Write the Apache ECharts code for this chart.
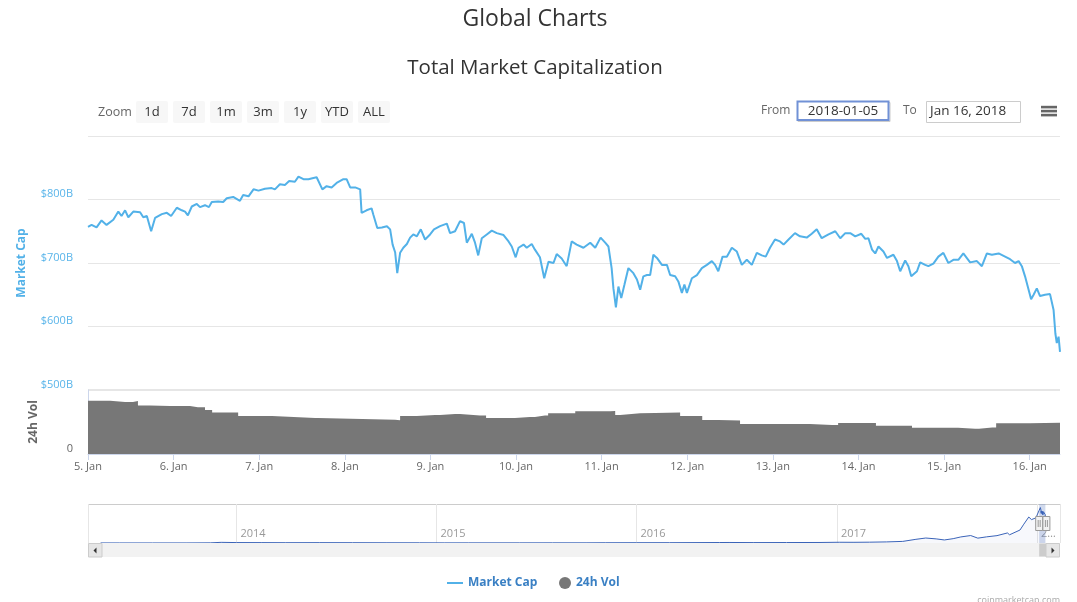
<!DOCTYPE html>
<html><head><meta charset="utf-8">
<script src="https://cdn.jsdelivr.net/npm/echarts@6/dist/echarts.min.js"></script>
<style>html,body{margin:0;padding:0;background:#fff}#c{width:1077px;height:602px}</style>
</head><body><div id="c"></div>
<script>
// ---- Market cap (billions USD), hours since 2018-01-05 00:00 ----
const capHours = [0,1.0,2.4,3.8,5.2,7.1,8.5,9.4,10.4,11.3,12.7,14.6,15.5,16.5,17.7,18.8,20.7,22.1,23.3,24.9,26.3,27.2,28.0,29.1,30.5,31.4,32.8,33.9,34.7,36.5,37.9,38.9,40.7,42.6,43.5,45.0,46.4,47.8,49.6,51.5,52.4,53.8,55.2,56.4,58.0,59.0,60.4,61.8,63.2,64.1,65.7,66.9,68.3,69.7,71.6,72.5,73.5,74.9,76.3,76.7,78.1,79.5,80.0,81.1,82.4,83.8,84.7,85.4,86.1,86.7,87.5,88.4,89.4,90.3,91.2,92.2,93.3,94.5,95.9,97.0,98.7,100.6,101.5,102.9,104.3,105.4,106.2,107.6,108.5,109.4,110.4,111.8,113.2,114.6,116.5,117.9,118.8,119.9,120.7,122.1,123.0,124.4,125.3,126.7,127.9,129.1,130.5,131.4,132.8,134.2,135.6,137.0,138.9,140.8,142.2,143.7,145.0,145.9,146.8,147.3,148.0,148.7,149.5,150.4,151.5,152.9,153.9,154.8,155.7,156.7,157.6,158.5,159.5,160.9,162.3,163.2,164.6,165.5,166.5,167.2,167.9,169.3,170.7,172.1,173.5,174.9,175.8,176.7,177.9,179.1,180.5,181.9,183.3,184.7,186.1,187.5,188.9,190.0,191.2,192.6,194.0,195.0,196.4,198.2,199.6,201.5,202.9,204.3,205.7,207.6,209.5,210.9,212.3,213.7,215.1,216.8,217.9,218.8,219.8,220.7,221.6,223.0,224.0,225.8,226.8,227.7,229.1,230.0,230.8,232.4,233.3,234.7,235.6,237.0,238.4,239.8,241.2,242.6,244.0,245.4,247.3,249.2,250.6,252.0,253.4,255.3,257.1,258.5,259.9,260.9,261.8,262.7,263.7,264.4,265.1,266.0,266.9,268.3,269.7,270.2,270.7,271.2,271.6,272.1,272.5];
const marketCap = [757,760,756,767,760,768,781,774,783,772,781,780,772,774,750,771,777,779,774,787,783,781,775,789,793,788,791,788,796,797,796,802,804,798,807,805,816,814,817,818,816,824,823,829,828,836,832,832,834,835,816,821,819,826,832,832,819,819,816,779,783,786,776,755,756,758,753,729,717,684,716,724,730,740,745,742,753,737,745,753,758,762,747,750,766,763,732,746,732,712,739,745,751,747,744,734,726,709,724,729,724,730,721,709,676,702,700,714,707,695,734,729,724,732,724,740,732,726,692,660,630,663,645,666,692,684,674,658,679,681,681,713,708,697,697,681,679,671,653,666,653,676,681,692,697,703,697,687,710,710,724,718,697,705,697,716,712,710,724,737,734,729,737,747,742,740,746,753,739,745,750,739,747,747,742,746,738,739,721,715,726,718,708,713,703,687,704,695,679,687,701,697,695,699,710,716,700,705,705,715,701,703,695,715,713,715,710,706,700,703,695,679,658,643,650,660,648,650,651,654,626,589,574,584,560];

// ---- 24h volume (billions USD), hours since 2018-01-05 00:00 ----
const volHours = [0,3.4,6.2,10.4,12.6,14.0,17.4,23.0,27.2,28.6,30.8,32.8,34.8,39.8,42.1,49.6,51.6,63.7,64.5,86.1,86.6,87.5,91.1,92.2,97.3,98.7,102.9,104.3,109.9,111.6,117.8,119.7,123.9,125.3,128.1,129.0,136.6,146.4,147.8,149.2,154.8,159.0,166.0,170.8,172.2,176.7,182.8,201.0,202.4,208.6,210.3,219.5,220.9,229.9,231.0,243.1,243.9,248.7,249.8,253.5,254.6,262.7,264.1,272.5];
const volume24h = [50.0,50.0,48.8,48.8,49.7,45.5,45,45,45,43.8,43.8,41.3,38.8,38.8,35.6,35.6,33.8,33.8,32.2,32.2,31.6,35.6,35.6,36.6,36.6,37.5,37.5,36,36,33.8,33.8,34.8,34.8,36,36,38.1,40,40.3,36.6,38.1,38.5,38.8,35.6,35.6,31.9,31.3,28.1,28.1,27.2,27.2,29.1,29.1,26.6,26.6,24.7,24.7,23.7,23.7,24.9,24.9,28.8,28.8,29.4,29.4];

// ---- Navigator history (billions USD) ----
const historyDates = ['2013-04-28','2013-06-01','2013-08-01','2013-10-01','2013-11-15','2013-12-04','2014-01-01','2014-02-15','2014-04-01','2014-06-01','2014-08-01','2014-10-01','2014-12-01','2015-01-15','2015-03-01','2015-06-01','2015-08-01','2015-10-01','2015-11-05','2016-01-01','2016-03-01','2016-06-01','2016-06-18','2016-08-01','2016-10-01','2016-12-01','2017-01-05','2017-02-01','2017-03-01','2017-04-01','2017-05-01','2017-05-25','2017-06-12','2017-07-01','2017-07-16','2017-08-01','2017-08-15','2017-09-02','2017-09-15','2017-10-01','2017-10-20','2017-11-08','2017-11-12','2017-12-01','2017-12-08','2017-12-17','2017-12-22','2017-12-30'];
const historyCap = [1.6,1.3,1.2,1.8,4,15,10,9,7,8,7,5.5,5,3,3.5,3.5,4,4,6,7,7.5,11,12,9.5,10.5,12,17,16,19,25,37,85,115,95,70,100,140,172,112,142,170,232,190,300,435,600,540,580];

const rangeButtons = ['1d','7d','1m','3m','1y','YTD','ALL'];
const fromText = '2018-01-05';
const toText = 'Jan 16, 2018';

const FONT = "'Open Sans', 'DejaVu Sans', sans-serif";
const HOUR = 3600000;
const base = new Date(2018, 0, 5).getTime();
const xMin = base;
const xMax = base + capHours[capHours.length - 1] * HOUR;
const capData = capHours.map((h, i) => [base + h * HOUR, marketCap[i]]);
const volData = volHours.map((h, i) => [base + h * HOUR, volume24h[i]]);
const navData = historyDates.map((d, i) => [new Date(d + 'T00:00:00').getTime(), historyCap[i]]).concat(capData);
const navMin = new Date('2013-04-05T00:00:00').getTime();
const navMax = new Date('2018-02-12T00:00:00').getTime();

const LINE = '#52b1e8';
const chart = echarts.init(document.getElementById('c'));

const option = {
  animation: false,
  textStyle: { fontFamily: FONT },
  legend: [
    { data: ['Market Cap'], left: 442, top: 572, icon: 'rect', itemWidth: 16, itemHeight: 2,
      textStyle: { color: '#3a80c4', fontWeight: 'bold', fontSize: 12, fontFamily: FONT } },
    { data: ['24h Vol'], left: 554, top: 572, icon: 'circle', itemWidth: 12, itemHeight: 12,
      textStyle: { color: '#3a80c4', fontWeight: 'bold', fontSize: 12, fontFamily: FONT } }
  ],
  grid: [
    { left: 88, right: 17, top: 136, height: 254 },
    { left: 88, right: 17, top: 390, height: 64 },
    { left: 88, right: 17, top: 504, height: 39 }
  ],
  xAxis: [
    { type: 'time', gridIndex: 0, min: xMin, max: xMax, show: false },
    { type: 'time', gridIndex: 1, min: xMin, max: xMax,
      minInterval: 24 * HOUR, maxInterval: 24 * HOUR,
      axisLine: { lineStyle: { color: '#ccd6eb' } },
      axisTick: { show: true, length: 6, lineStyle: { color: '#ccd6eb' } },
      axisLabel: { color: '#666', fontSize: 11, margin: 7, formatter: '{d}. {MMM}', hideOverlap: false },
      splitLine: { show: false } },
    { type: 'time', gridIndex: 2, min: navMin, max: navMax,
      minInterval: 365 * 24 * HOUR, maxInterval: 366 * 24 * HOUR,
      axisLine: { show: false }, axisTick: { show: false },
      axisLabel: { inside: true, margin: 4, align: 'left', padding: [0, 0, 0, 4], color: '#999', fontSize: 11,
        formatter: v => { const y = new Date(v).getFullYear(); return y === 2018 ? '2…' : String(y); } },
      splitLine: { show: true, lineStyle: { color: '#e6e6e6' } } }
  ],
  yAxis: [
    { type: 'value', gridIndex: 0, min: 500, max: 900, interval: 100,
      name: 'Market Cap', nameLocation: 'middle', nameGap: 60,
      nameTextStyle: { color: '#52b1e8', fontWeight: 'bold', fontSize: 12 },
      axisLine: { show: false }, axisTick: { show: false },
      axisLabel: { color: '#5ab5ea', fontSize: 11, margin: 15, verticalAlign: 'bottom', showMaxLabel: false,
        formatter: v => '$' + v + 'B' },
      splitLine: { lineStyle: { color: '#e6e6e6' } } },
    { type: 'value', gridIndex: 1, min: 0, max: 60, interval: 60,
      name: '24h Vol', nameLocation: 'middle', nameGap: 48,
      nameTextStyle: { color: '#666', fontWeight: 'bold', fontSize: 12 },
      axisLine: { show: true, lineStyle: { color: '#ccd6eb' } }, axisTick: { show: false },
      axisLabel: { color: '#666', fontSize: 11, margin: 15, verticalAlign: 'bottom', showMaxLabel: false },
      splitLine: { lineStyle: { color: '#e6e6e6', width: 2 } } },
    { type: 'value', gridIndex: 2, min: 0, max: 900, interval: 900,
      axisLine: { show: false }, axisTick: { show: false }, axisLabel: { show: false },
      splitLine: { lineStyle: { color: '#cccccc' } } }
  ],
  series: [
    { name: 'Market Cap', type: 'line', xAxisIndex: 0, yAxisIndex: 0, data: capData,
      showSymbol: false, symbol: 'none', lineStyle: { color: LINE, width: 2 }, itemStyle: { color: LINE }, z: 3 },
    { name: '24h Vol', type: 'line', step: 'end', xAxisIndex: 1, yAxisIndex: 1, data: volData,
      showSymbol: false, symbol: 'none', lineStyle: { width: 0 }, itemStyle: { color: '#777777' },
      areaStyle: { color: '#777777', opacity: 1 } },
    { name: 'navigator', type: 'line', xAxisIndex: 2, yAxisIndex: 2, data: navData,
      showSymbol: false, symbol: 'none', lineStyle: { color: '#3a63b8', width: 1 }, itemStyle: { color: '#3a63b8' },
      areaStyle: { color: 'rgba(102,133,194,0.08)' }, silent: true,
      markArea: { silent: true, itemStyle: { color: 'rgba(102,133,194,0.3)' },
        data: [[{ xAxis: xMin }, { xAxis: xMax }]] } }
  ]
};
chart.setOption(option);

// ---- UI decorations (range selector, inputs, menu, navigator handles, scrollbar) ----
const g = [];
const txt = (text, x, y, o) => g.push(Object.assign({ type: 'text', z: 20,
  style: Object.assign({ text, x, y, fontFamily: FONT, fontSize: 12, fill: '#666', align: 'left', verticalAlign: 'middle' }, o || {}) }));
txt('Global Charts', 535, 19, { fontSize: 23, fill: '#333', align: 'center' });
txt('Total Market Capitalization', 535, 68, { fontSize: 20.5, fill: '#333', align: 'center' });
txt('Zoom', 98, 112, { fontSize: 12.5 });
rangeButtons.forEach((b, i) => {
  const x = 136 + i * 37;
  g.push({ type: 'rect', z: 20, shape: { x: x, y: 101, width: 32, height: 22, r: 2 }, style: { fill: '#f7f7f7' } });
  txt(b, x + 16, 112, { fontSize: 13, fill: '#333', align: 'center' });
});
txt('From', 761, 111, { fontSize: 12 });
g.push({ type: 'rect', z: 19, shape: { x: 798, y: 102.5, width: 92, height: 19 }, style: { fill: 'none', stroke: '#cccccc', lineWidth: 1 } });
g.push({ type: 'rect', z: 20, shape: { x: 797.5, y: 101.5, width: 91, height: 18.5 }, style: { fill: '#fff', stroke: '#7191d6', lineWidth: 2 } });
txt(fromText, 843, 111, { fontSize: 13.5, fill: '#333', align: 'center' });
txt('To', 903, 111, { fontSize: 12 });
g.push({ type: 'rect', z: 20, shape: { x: 926.5, y: 101.5, width: 94, height: 21 }, style: { fill: '#fff', stroke: '#cccccc', lineWidth: 1 } });
txt(toText, 930, 111.5, { fontSize: 13.5, fill: '#333' });
[107, 111, 115].forEach(y => g.push({ type: 'rect', z: 20, shape: { x: 1041, y: y - 1.2, width: 16, height: 2.6 }, style: { fill: '#666' } }));
txt('coinmarketcap.com', 1060, 600, { fontSize: 9, fill: '#aaa', align: 'right' });

// scrollbar under navigator
const sbY = 543, sbH = 14, L = 88, R = 1060;
g.push({ type: 'rect', z: 15, shape: { x: L, y: sbY, width: R - L, height: sbH }, style: { fill: '#f2f2f2' } });
const pMin = chart.convertToPixel({ xAxisIndex: 2 }, xMin);
const pMax = chart.convertToPixel({ xAxisIndex: 2 }, xMax);
g.push({ type: 'rect', z: 16, shape: { x: pMin, y: sbY + 0.5, width: Math.max(pMax - pMin, 9), height: sbH - 1 }, style: { fill: '#cccccc' } });
g.push({ type: 'rect', z: 17, shape: { x: L + 0.5, y: sbY + 0.5, width: 13.5, height: sbH - 0.5 }, style: { fill: '#e6e6e6', stroke: '#cccccc' } });
g.push({ type: 'rect', z: 17, shape: { x: R - 14, y: sbY + 0.5, width: 13.5, height: sbH - 0.5 }, style: { fill: '#e6e6e6', stroke: '#cccccc' } });
g.push({ type: 'polygon', z: 18, shape: { points: [[L + 8.5, sbY + 4.5], [L + 8.5, sbY + 10.5], [L + 5.5, sbY + 7.5]] }, style: { fill: '#333' } });
g.push({ type: 'polygon', z: 18, shape: { points: [[R - 8.5, sbY + 4.5], [R - 8.5, sbY + 10.5], [R - 5.5, sbY + 7.5]] }, style: { fill: '#333' } });
// navigator handles
[pMin - 4, pMax - 3].forEach(hx => {
  g.push({ type: 'rect', z: 18, shape: { x: hx + 0.5, y: 516.5, width: 7, height: 14 }, style: { fill: '#f2f2f2', stroke: '#999999', lineWidth: 1 } });
  g.push({ type: 'line', z: 19, shape: { x1: hx + 3, y1: 520, x2: hx + 3, y2: 527 }, style: { stroke: '#999999', lineWidth: 1 } });
  g.push({ type: 'line', z: 19, shape: { x1: hx + 5, y1: 520, x2: hx + 5, y2: 527 }, style: { stroke: '#999999', lineWidth: 1 } });
});
chart.setOption({ graphic: g });
</script>
</body></html>
